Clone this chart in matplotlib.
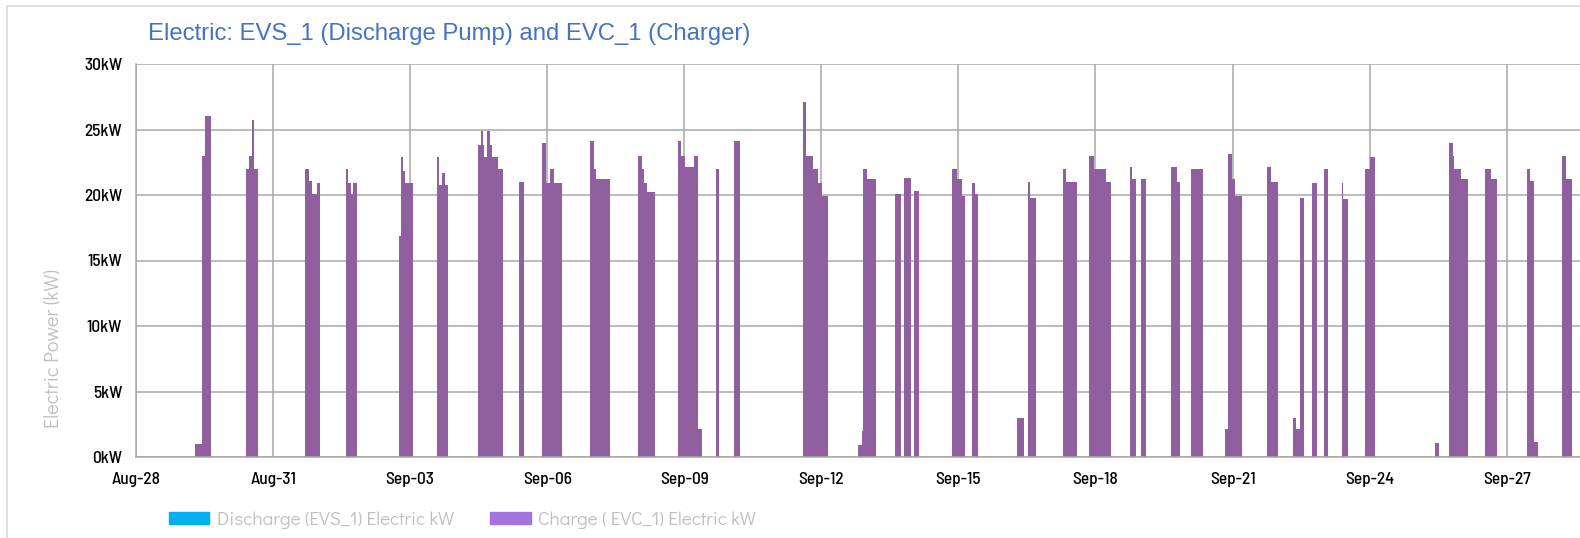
import pandas as pd
import matplotlib.pyplot as plt
from matplotlib.patches import Rectangle, Patch

# charger EVC_1: time of each change (2023) and the kW held from then on
change_time = [
    "08-28 00:00",
    "08-29 07:10", "08-29 10:30", "08-29 12:15", "08-29 15:15",
    "08-30 09:35", "08-30 11:30", "08-30 12:55", "08-30 14:00", "08-30 16:10",
    "08-31 16:50", "08-31 18:55", "08-31 20:35", "08-31 22:55", "09-01 00:40",
    "09-01 14:20", "09-01 15:30", "09-01 16:50", "09-01 18:05", "09-01 19:55",
    "09-02 18:20", "09-02 19:00", "09-02 20:25", "09-02 21:20", "09-03 01:40",
    "09-03 14:00", "09-03 15:10", "09-03 16:55", "09-03 18:20", "09-03 20:05",
    "09-04 11:30", "09-04 13:05", "09-04 14:05", "09-04 15:00", "09-04 16:30",
    "09-04 18:00", "09-04 18:50", "09-04 22:00", "09-05 00:35",
    "09-05 09:10", "09-05 11:50",
    "09-05 21:30", "09-05 23:25", "09-06 01:30", "09-06 03:35", "09-06 07:55",
    "09-06 22:30", "09-07 00:35", "09-07 01:35", "09-07 09:00",
    "09-07 23:55", "09-08 01:35", "09-08 02:50", "09-08 04:20", "09-08 08:30",
    "09-08 20:30", "09-08 22:05", "09-09 00:25", "09-09 05:05", "09-09 07:25", "09-09 09:10",
    "09-09 16:40", "09-09 18:25",
    "09-10 02:20", "09-10 05:05",
    "09-11 14:30", "09-11 15:50", "09-11 19:30", "09-11 22:25", "09-12 00:10", "09-12 03:40",
    "09-12 19:25", "09-12 21:30", "09-12 22:00", "09-12 23:50", "09-13 04:40",
    "09-13 14:40", "09-13 17:55",
    "09-13 19:25", "09-13 22:55",
    "09-14 00:30", "09-14 03:20",
    "09-14 20:35", "09-14 23:05", "09-15 01:40", "09-15 03:30",
    "09-15 07:00", "09-15 08:40", "09-15 10:30",
    "09-16 06:55", "09-16 10:30",
    "09-16 12:40", "09-16 13:35", "09-16 16:35",
    "09-17 06:50", "09-17 08:30", "09-17 14:05",
    "09-17 20:25", "09-17 23:10", "09-18 05:30", "09-18 08:00",
    "09-18 18:05", "09-18 19:25", "09-18 21:20",
    "09-18 23:50", "09-19 02:35",
    "09-19 15:30", "09-19 19:00", "09-19 20:25",
    "09-20 02:10", "09-20 08:20",
    "09-20 19:55", "09-20 21:50", "09-20 23:35", "09-21 01:20", "09-21 05:00",
    "09-21 18:20", "09-21 20:00", "09-22 00:00",
    "09-22 07:55", "09-22 09:10", "09-22 11:25", "09-22 13:35",
    "09-22 17:35", "09-22 20:10",
    "09-22 23:55", "09-23 02:00",
    "09-23 09:20", "09-23 10:10", "09-23 12:50",
    "09-23 21:35", "09-24 00:10", "09-24 02:50",
    "09-25 10:25", "09-25 12:30",
    "09-25 17:40", "09-25 19:35", "09-25 20:30", "09-26 00:00", "09-26 03:55",
    "09-26 12:35", "09-26 15:50", "09-26 19:05",
    "09-27 10:50", "09-27 12:10", "09-27 14:20", "09-27 16:35",
    "09-28 05:10", "09-28 07:00", "09-28 10:10",
    "09-28 14:30",
]
charge_kw = [
    0,
    1, 23, 26, 0,
    22, 23, 25.7, 22, 0,
    22, 21.1, 20.1, 20.9, 0,
    22, 20.9, 20.1, 20.9, 0,
    16.9, 22.9, 21.8, 20.9, 0,
    22.9, 20.8, 21.7, 20.8, 0,
    23.8, 24.9, 23.8, 22.9, 24.9,
    23.8, 22.9, 22, 0,
    21, 0,
    24, 20.9, 22, 20.9, 0,
    24.1, 22, 21.2, 0,
    23, 22, 20.9, 20.2, 0,
    24.1, 23, 22.1, 23, 2.1, 0,
    22, 0,
    24.1, 0,
    27.1, 23, 22, 20.9, 19.9, 0,
    0.9, 2, 22, 21.2, 0,
    20.1, 0,
    21.3, 0,
    20.3, 0,
    22, 21.2, 19.9, 0,
    20.9, 20.1, 0,
    3, 0,
    21, 19.8, 0,
    22, 21, 0,
    23, 22, 21, 0,
    22.1, 21.2, 0,
    21.2, 0,
    22.1, 21, 0,
    22, 0,
    2.1, 23.1, 21.2, 19.9, 0,
    22.1, 21, 0,
    3, 2.1, 19.8, 0,
    20.9, 0,
    22, 0,
    20.9, 19.7, 0,
    22, 22.9, 0,
    1.1, 0,
    24, 23, 22, 21.2, 0,
    22, 21.2, 0,
    22, 21.1, 1.15, 0,
    23, 21.2, 0,
    0,
]
# discharge pump EVS_1 never ran in this period
discharge_kw = [0] * len(change_time)

tick_days = ["08-28", "08-31", "09-03", "09-06", "09-09", "09-12",
             "09-15", "09-18", "09-21", "09-24", "09-27"]
kw_ticks = [0, 5, 10, 15, 20, 25, 30]

times = pd.to_datetime(["2023-" + t for t in change_time])
xticks = pd.to_datetime(["2023-" + d for d in tick_days])

fig = plt.figure(figsize=(15.8, 5.38), dpi=100)
ax = fig.add_axes([136 / 1580, 81 / 538, 1 - 136 / 1580, 393 / 538])

ax.fill_between(times, discharge_kw, step="post", color="#00B0F0", lw=0)
ax.fill_between(times, charge_kw, step="post", color="#8F5FA0", lw=0)

ax.set_xlim(times[0], times[-1])
ax.set_ylim(0, 30)
ax.set_yticks(kw_ticks)
ax.set_yticklabels([f"{v}kW" for v in kw_ticks])
ax.set_xticks(xticks)
ax.set_xticklabels([d.strftime("%b-%d") for d in xticks])

tick_font = ["Barlow Semi Condensed", "Roboto Condensed", "Oswald", "DejaVu Sans"]
for lab in ax.get_xticklabels() + ax.get_yticklabels():
    lab.set_family(tick_font)
    lab.set_fontsize(12.5)
    lab.set_fontweight(500)
ax.tick_params(length=0)
ax.tick_params(axis="y", pad=10)
ax.tick_params(axis="x", pad=11)

ax.grid(True, color="#A8A8A8", lw=1.1)
ax.set_axisbelow(True)
for s in ["top", "right"]:
    ax.spines[s].set_visible(False)
for s in ["left", "bottom"]:
    ax.spines[s].set_color("#A8A8A8")
    ax.spines[s].set_linewidth(1.1)

light_font = ["Didact Gothic", "Questrial", "Lato"]
ax.set_ylabel("Electric Power (kW)", color="#BFBFBF", fontsize=14.5, family=light_font)
ax.yaxis.set_label_coords(-0.051, 0.275)

fig.text(148 / 1580, 1 - 34 / 538, "Electric: EVS_1 (Discharge Pump) and EVC_1 (Charger)",
         ha="left", va="center", fontsize=17.2, color="#4472C4", family="Liberation Sans")

handles = [Patch(color="#00B0F0", label="Discharge (EVS_1) Electric kW"),
           Patch(color="#A374E0", label="Charge ( EVC_1) Electric kW")]
leg = fig.legend(handles=handles, loc="center left", bbox_to_anchor=(169 / 1580, 1 - 520 / 538),
                 ncol=2, frameon=False, borderpad=0, borderaxespad=0,
                 handlelength=2.1, handleheight=0.65, handletextpad=0.4, columnspacing=1.9,
                 prop={"family": light_font, "size": 13.8})
for t in leg.get_texts():
    t.set_color("#BFBFBF")

# light outer frame of the chart panel
fig.patches.append(Rectangle((7 / 1580, -1), 2, 2 - 6 / 538, transform=fig.transFigure,
                             fill=False, edgecolor="#D9D9D9", lw=1.2))

plt.savefig("out.png", dpi=100)
